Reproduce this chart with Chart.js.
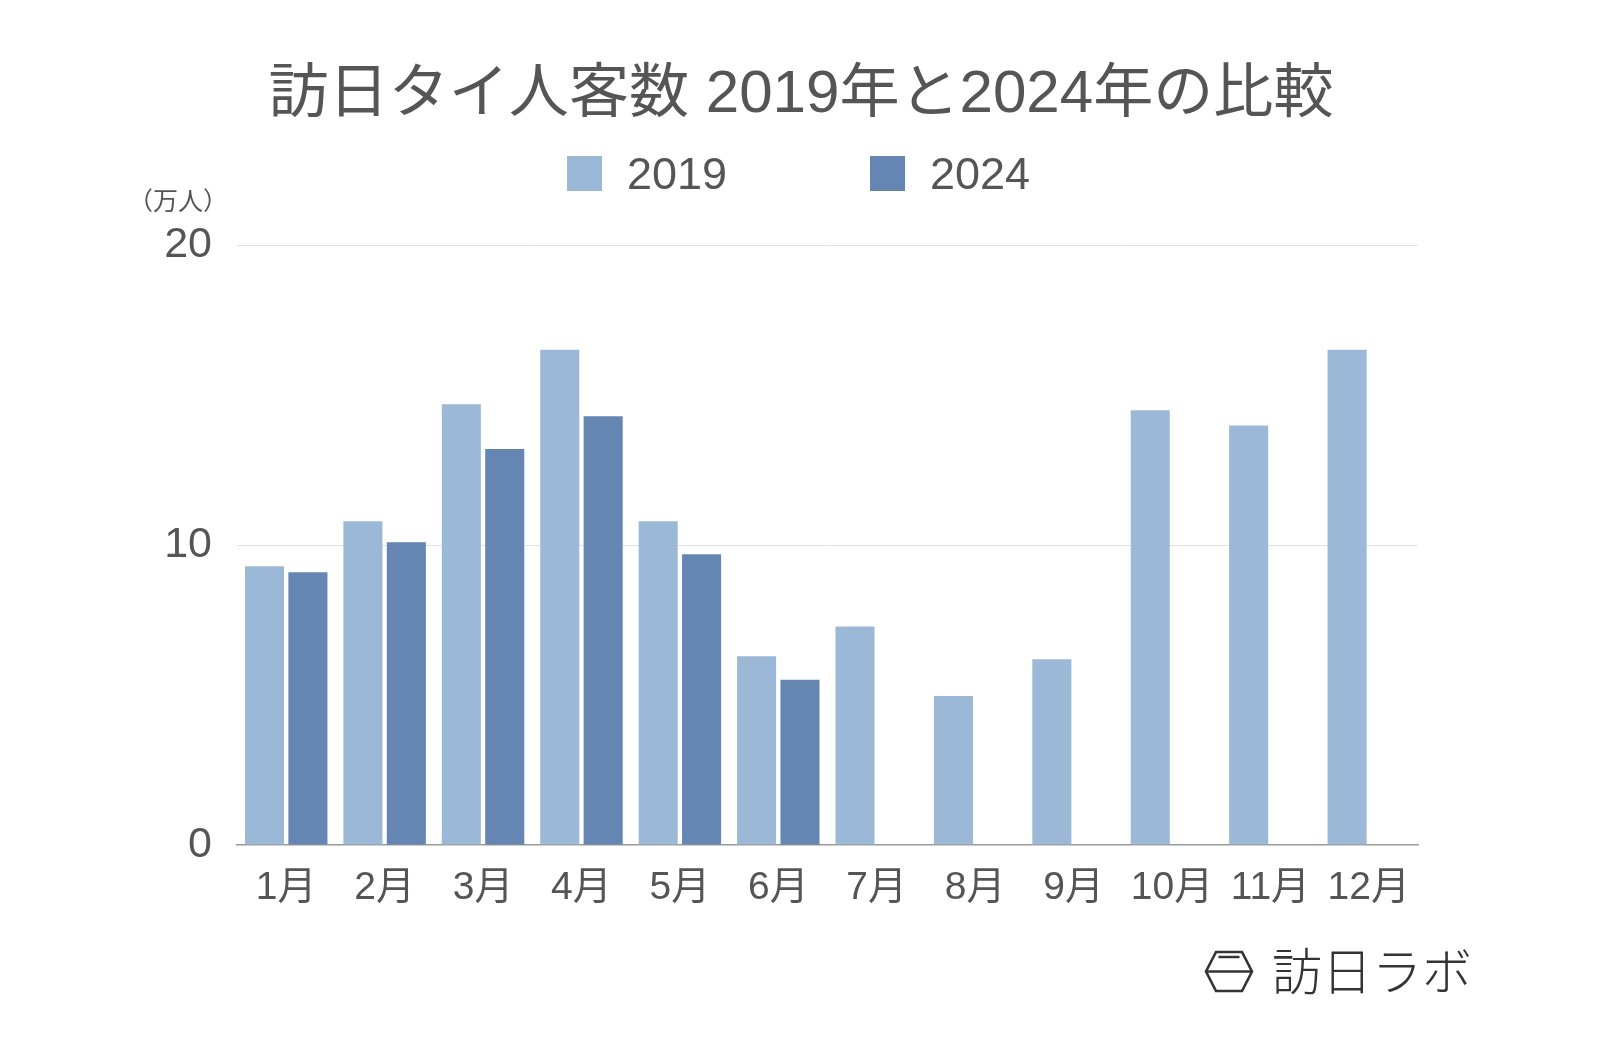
<!DOCTYPE html>
<html>
<head>
<meta charset="utf-8">
<script src="https://cdn.jsdelivr.net/npm/chart.js@4.4.1/dist/chart.umd.min.js"></script>
<style>
  html, body { margin: 0; padding: 0; background: #ffffff; }
  #wrap { width: 1600px; height: 1048px; }
</style>
</head>
<body>
<div id="wrap"><canvas id="c" width="1600" height="1048"></canvas></div>
<script>
const titleText = '訪日タイ人客数 2019年と2024年の比較';
const unitText = '（万人）';
const logoText = '訪日ラボ';
const months = ['1月','2月','3月','4月','5月','6月','7月','8月','9月','10月','11月','12月'];
const seriesLabels = ['2019', '2024'];
const values2019 = [9.29, 10.79, 14.69, 16.51, 10.79, 6.29, 7.28, 4.97, 6.19, 14.49, 13.98, 16.51];
const values2024 = [9.09, 10.09, 13.20, 14.29, 9.69, 5.51, null, null, null, null, null, null];
const yTicks = [0, 10, 20];

const FONT = '"Liberation Sans", "Noto Sans CJK JP", sans-serif';
const CJK = '"Noto Sans CJK JP", "Noto Sans", sans-serif';
const TEXT = '#555555';
const colors = ['#9bb8d6', '#6585b3'];

const decor = {
  id: 'decor',
  afterDraw(chart) {
    const ctx = chart.ctx;
    ctx.save();
    // Title (slightly condensed like the original)
    ctx.fillStyle = TEXT;
    ctx.textAlign = 'center';
    ctx.textBaseline = 'middle';
    ctx.font = '59px ' + FONT;
    const tw = ctx.measureText(titleText).width;
    const sx = 1065 / tw;
    ctx.save();
    ctx.translate(801, 96);
    ctx.scale(sx, 1);
    ctx.fillText(titleText, 0, 0);
    ctx.restore();

    // Legend
    const items = chart.data.datasets.map(d => ({ text: d.label, color: d.backgroundColor }));
    const boxX = [567, 870];
    ctx.font = '45px ' + FONT;
    ctx.textAlign = 'left';
    items.forEach((it, i) => {
      ctx.fillStyle = it.color;
      ctx.fillRect(boxX[i], 156, 35, 35);
      ctx.fillStyle = TEXT;
      ctx.fillText(it.text, boxX[i] + 60, 177);
    });

    // Unit label
    ctx.font = '25px ' + CJK;
    ctx.textAlign = 'center';
    ctx.fillText(unitText, 178, 200);

    // Logo icon (hexagon)
    ctx.strokeStyle = '#333333';
    ctx.lineWidth = 2.6;
    ctx.lineJoin = 'miter';
    const L = 1206, R = 1252, T = 952, B = 991, M = 971.5, iL = 1216, iR = 1242;
    ctx.beginPath();
    ctx.moveTo(iL, T); ctx.lineTo(iR, T); ctx.lineTo(R, M); ctx.lineTo(iR, B);
    ctx.lineTo(iL, B); ctx.lineTo(L, M); ctx.closePath();
    ctx.stroke();
    ctx.beginPath();
    ctx.moveTo(L, M); ctx.lineTo(R, M);
    ctx.moveTo(iL + 2.5, 957); ctx.lineTo(iR - 2.5, 957);
    ctx.stroke();
    // Logo text
    ctx.fillStyle = '#333333';
    ctx.font = '300 50px ' + CJK;
    ctx.textAlign = 'left';
    ctx.textBaseline = 'middle';
    ctx.fillText(logoText, 1272, 971);
    ctx.restore();
  }
};

new Chart(document.getElementById('c'), {
  type: 'bar',
  data: {
    labels: months,
    datasets: [
      { label: seriesLabels[0], data: values2019, backgroundColor: colors[0] },
      { label: seriesLabels[1], data: values2024, backgroundColor: colors[1] }
    ]
  },
  options: {
    responsive: false,
    animation: false,
    devicePixelRatio: 1,
    layout: { padding: { top: 245, right: 182, bottom: 0, left: 0 } },
    datasets: { bar: { categoryPercentage: 0.882, barPercentage: 0.9 } },
    plugins: {
      legend: { display: false },
      title: { display: false },
      tooltip: { enabled: false }
    },
    scales: {
      x: {
        grid: { display: false, drawTicks: false },
        border: { display: true, color: '#999999', width: 1.5 },
        ticks: { color: TEXT, font: { family: FONT, size: 39 }, padding: 20, maxRotation: 0, autoSkip: false },
        afterFit(scale) { scale.height = 203; }
      },
      y: {
        min: 0, max: 20,
        afterBuildTicks(scale) { scale.ticks = yTicks.map(v => ({ value: v })); },
        grid: {
          drawTicks: false,
          color: ctx => (ctx.tick && ctx.tick.value === 0) ? 'rgba(0,0,0,0)' : '#e2e2e2',
          lineWidth: 1
        },
        border: { display: false },
        ticks: { color: TEXT, font: { family: FONT, size: 43 }, padding: 25 },
        afterFit(scale) { scale.width = 237; }
      }
    }
  },
  plugins: [decor]
});
</script>
</body>
</html>
